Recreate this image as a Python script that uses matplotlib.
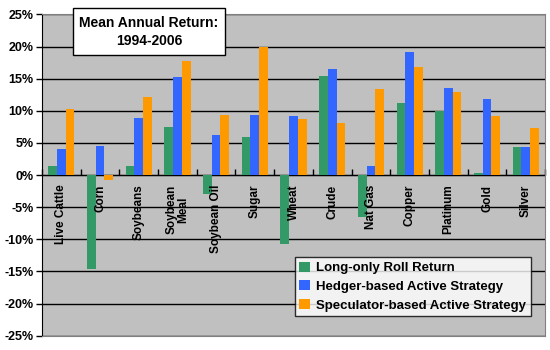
import numpy as np
import matplotlib
matplotlib.use("Agg")
import matplotlib.pyplot as plt
from matplotlib.ticker import FuncFormatter
from matplotlib.patches import Rectangle

plt.rcParams['font.family'] = ['Liberation Sans', 'DejaVu Sans']
plt.rcParams['font.weight'] = 'bold'

# data (% mean annual return 1994-2006)
commodities = ["Live Cattle", "Corn", "Soybeans", "Soybean\nMeal", "Soybean Oil", "Sugar",
               "Wheat", "Crude", "Nat Gas", "Copper", "Platinum", "Gold", "Silver"]
long_only = [1.4, -14.7, 1.4, 7.5, -2.9, 6.0, -10.7, 15.4, -6.5, 11.2, 9.9, 0.3, 4.4]
hedger = [4.1, 4.6, 8.9, 15.3, 6.3, 9.4, 9.2, 16.5, 1.4, 19.2, 13.6, 11.9, 4.4]
speculator = [10.3, -0.7, 12.1, 17.7, 9.4, 19.9, 8.7, 8.1, 13.4, 16.8, 12.9, 9.2, 7.4]

series = [("Long-only Roll Return", long_only, "#339966"),
          ("Hedger-based Active Strategy", hedger, "#3366FF"),
          ("Speculator-based Active Strategy", speculator, "#FF9900")]

fig = plt.figure(figsize=(5.5, 3.5), dpi=100)
ax = fig.add_axes([0.0764, 0.041, 0.9146, 0.9176])
ax.set_facecolor("#C0C0C0")

x = np.arange(len(commodities))
w = 0.225
for i, (name, vals, col) in enumerate(series):
    ax.bar(x + (i - 1) * w, vals, w, color=col, label=name, zorder=3)

ax.set_xlim(-0.5, len(commodities) - 0.5)
ax.set_ylim(-25, 25)
ax.set_yticks(np.arange(-25, 26, 5))
ax.yaxis.set_major_formatter(FuncFormatter(lambda v, p: "%d%%" % v))
ax.tick_params(axis='y', direction='out', length=4, width=1, labelsize=9, pad=2)
ax.set_xticks([])
ax.grid(axis='y', color='black', lw=1, zorder=1)

for s in ['top', 'right', 'bottom']:
    ax.spines[s].set_color('#808080')
ax.spines['left'].set_color('black')

# category axis at zero
sec = ax.secondary_xaxis(0.5)
sec.set_xticks(np.arange(len(commodities) + 1) - 0.5)
sec.set_xticklabels([])
sec.tick_params(direction='out', length=4, width=1, color='black')
sec.spines['bottom'].set_color('black')

for xi, name in zip(x, commodities):
    ax.text(xi, -1.5, name, rotation=90, ha='center', va='top', fontsize=8.5,
            fontweight='bold', multialignment='center', linespacing=0.95, zorder=4)

# title box
fig.add_artist(Rectangle((73 / 550, 1 - 55 / 350), 152 / 550, 47 / 350,
                         transform=fig.transFigure, fc='white', ec='black', lw=1, zorder=5))
fig.text(149 / 550, 1 - 23 / 350, "Mean Annual Return:", ha='center', va='center',
         fontsize=10, fontweight='bold', zorder=6)
fig.text(149 / 550, 1 - 41 / 350, "1994-2006", ha='center', va='center',
         fontsize=10, fontweight='bold', zorder=6)

leg = ax.legend(loc='lower right', bbox_to_anchor=(0.985, 0.04), fontsize=9.5,
                frameon=True, fancybox=False, edgecolor='black', handlelength=0.8,
                handleheight=0.8, handletextpad=0.5, borderpad=0.35, labelspacing=0.45)
leg.get_frame().set_linewidth(1)

fig.savefig("out.png", dpi=100)
